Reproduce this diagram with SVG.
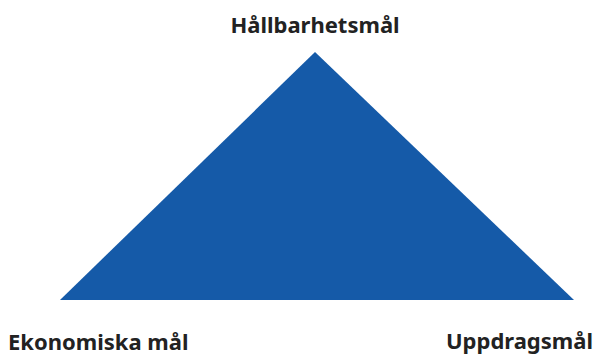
<svg xmlns="http://www.w3.org/2000/svg" width="598" height="356" viewBox="0 0 598 356">
<style>
.lbl{font-family:"Noto Sans","Open Sans","DejaVu Sans",sans-serif;font-weight:bold;font-size:22px;fill:#222222}
</style>
<rect width="598" height="356" fill="#ffffff"/>
<g id="triangle">
<polygon points="315,52 574,300 60,300" fill="#155aa8"/>
</g>
<g id="top"><text class="lbl" x="315" y="33" text-anchor="middle">Hållbarhetsmål</text></g>
<g id="left"><text class="lbl" x="8" y="350">Ekonomiska mål</text></g>
<g id="right"><text class="lbl" x="593" y="349" text-anchor="end">Uppdragsmål</text></g>
</svg>
